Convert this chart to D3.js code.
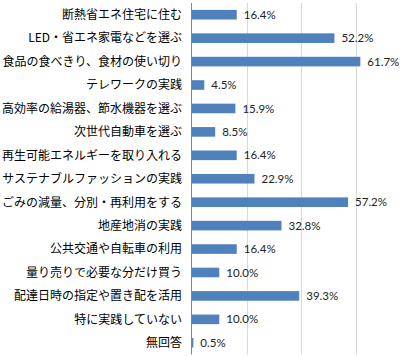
<!DOCTYPE html>
<html><head><meta charset="utf-8">
<script src="https://cdn.jsdelivr.net/npm/d3@7"></script>
<style>body{margin:0;background:#fff}svg{display:block}</style>
</head><body>
<script>
const categories = ["断熱省エネ住宅に住む","LED・省エネ家電などを選ぶ","食品の食べきり、食材の使い切り","テレワークの実践","高効率の給湯器、節水機器を選ぶ","次世代自動車を選ぶ","再生可能エネルギーを取り入れる","サステナブルファッションの実践","ごみの減量、分別・再利用をする","地産地消の実践","公共交通や自転車の利用","量り売りで必要な分だけ買う","配達日時の指定や置き配を活用","特に実践していない","無回答"];
const values = [16.4,52.2,61.7,4.5,15.9,8.5,16.4,22.9,57.2,32.8,16.4,10.0,39.3,10.0,0.5];
const gridTicks = [20,40,60];

const W=404,H=357;
const svg=d3.select("body").append("svg").attr("width",W).attr("height",H);
const x=d3.scaleLinear().domain([0,70]).range([192,383]);
const y=d3.scaleBand().domain(categories).range([3,354.5]).paddingInner(0.59).paddingOuter(0.295);

svg.append("g").selectAll("line").data(gridTicks).join("line")
 .attr("x1",d=>Math.round(x(d))+0.5).attr("x2",d=>Math.round(x(d))+0.5)
 .attr("y1",3).attr("y2",354.5).attr("stroke","#d9d9d9").attr("stroke-width",1);

svg.append("g").selectAll("rect").data(values).join("rect")
 .attr("x",x(0)).attr("y",(d,i)=>y(categories[i]))
 .attr("width",d=>x(d)-x(0)).attr("height",y.bandwidth()).attr("fill","#4f81bd");

svg.append("line").attr("x1",x(0)-0.5).attr("x2",x(0)-0.5).attr("y1",3).attr("y2",354.5)
 .attr("stroke","#868686").attr("stroke-width",1);

svg.append("g").selectAll("text").data(values).join("text")
 .attr("x",d=>x(d)+7).attr("y",(d,i)=>y(categories[i])+y.bandwidth()/2)
 .attr("dy","0.36em").attr("font-family","Lato, 'Liberation Sans', sans-serif").attr("font-size",11.5)
 .attr("fill","#222").text(d=>d.toFixed(1)+"%");

svg.append("g").selectAll("text").data(categories).join("text")
 .attr("x",182).attr("y",d=>y(d)+y.bandwidth()/2).attr("dy","0.36em")
 .attr("text-anchor","end").attr("font-family","'Noto Sans CJK JP', sans-serif").attr("font-size",12)
 .attr("fill","#000").text(d=>d);
</script>
</body></html>
